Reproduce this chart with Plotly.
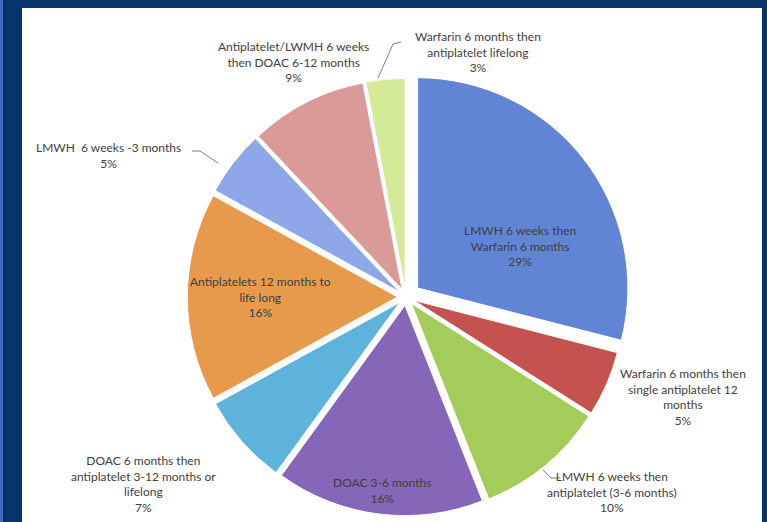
import plotly.graph_objects as go

W, H = 767, 522

# ---- data ----
labels = [
    "LMWH 6 weeks then<br>Warfarin 6 months",
    "Warfarin 6 months then<br>single antiplatelet 12<br>months",
    "LMWH 6 weeks then<br>antiplatelet (3-6 months)",
    "DOAC 3-6 months",
    "DOAC 6 months then<br>antiplatelet 3-12 months or<br>lifelong",
    "Antiplatelets 12 months to<br>life long",
    "LMWH  6 weeks -3 months",
    "Antiplatelet/LWMH 6 weeks<br>then DOAC 6-12 months",
    "Warfarin 6 months then<br>antiplatelet lifelong",
]
values = [29, 5, 10, 16, 7, 16, 5, 9, 3]

# ---- style ----
colors = ["#6184d4", "#c4524f", "#a4cc5a", "#8566b8", "#5db3db",
          "#e89a4c", "#8ea7e8", "#d99a98", "#d3eb98"]
pulls = [0.07, 0.04, 0.04, 0.04, 0.04, 0.04, 0.04, 0.04, 0.04]
TXT = "#404040"
FONT = "Lato"
FS = 12

# label block centres (px), by slice index
label_centres = {
    0: (520, 246),
    3: (382, 490),
    5: (260, 297),
    7: (293, 62),
    8: (478, 52),
    6: (108, 155),
    1: (683, 397),
    2: (612, 492),
    4: (143, 484),
}
leaders = {
    8: [(378, 78), (393, 44), (401, 42)],
    6: [(192, 151), (200, 151), (218, 163)],
    2: [(543, 470), (551, 478), (560, 478)],
}

def px(x, y):
    return x / W, 1 - y / H

cx, cy = 406, 297
half = 225
fig = go.Figure(go.Pie(
    labels=labels, values=values, sort=False, direction="clockwise", rotation=0,
    marker=dict(colors=colors, line=dict(color="white", width=1)),
    pull=pulls, textinfo="none", hoverinfo="label+percent",
    domain=dict(x=[(cx - half) / W, (cx + half) / W], y=[0, (2 * half) / H]),
    showlegend=False,
))

shapes = [
    dict(type="rect", xref="paper", yref="paper", x0=0, x1=1, y0=0, y1=1,
         fillcolor="#06346a", line=dict(width=0), layer="below"),
    dict(type="rect", xref="paper", yref="paper", x0=0, x1=3 / W, y0=0, y1=1,
         fillcolor="#3a6cc0", line=dict(width=0), layer="below"),
    dict(type="rect", xref="paper", yref="paper", x0=22 / W, x1=762 / W, y0=0, y1=1 - 8 / H,
         fillcolor="white", line=dict(width=0), layer="below"),
]
for i, pts in leaders.items():
    path = ""
    for k, (x, y) in enumerate(pts):
        X, Y = px(x, y)
        path += ("M" if k == 0 else "L") + f"{X},{Y} "
    shapes.append(dict(type="path", xref="paper", yref="paper", path=path.strip(),
                       line=dict(color="#808080", width=1)))

annotations = []
for i, (x, y) in label_centres.items():
    X, Y = px(x, y)
    annotations.append(dict(
        x=X, y=Y, xref="paper", yref="paper", xanchor="center", yanchor="middle",
        text=f"{labels[i]}<br>{values[i]}%", showarrow=False, align="center",
        font=dict(family=FONT, size=FS, color=TXT)))

fig.update_layout(
    width=W, height=H, margin=dict(l=0, r=0, t=0, b=0),
    paper_bgcolor="#06346a",
    shapes=shapes, annotations=annotations,
)
fig.write_html("out.html")
